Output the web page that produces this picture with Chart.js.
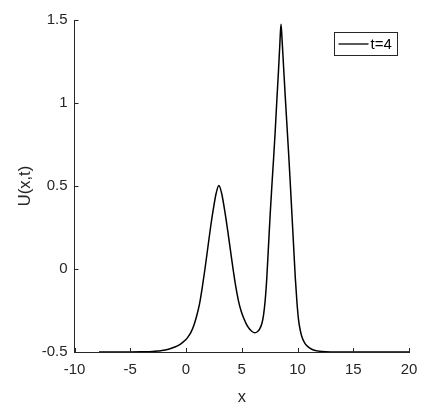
<!DOCTYPE html>
<html><head><meta charset="utf-8">
<script src="https://cdn.jsdelivr.net/npm/chart.js@4.4.0/dist/chart.umd.min.js"></script>
<style>html,body{margin:0;padding:0;background:#fff;}#wrap{width:436px;height:414px;}</style>
</head><body><div id="wrap"><canvas id="c" width="436" height="414"></canvas></div>
<script>
const xValues = [-7.8,-6,-5,-4,-3,-2.5,-2,-1.5,-1,-0.6,-0.3,-0.05,0.2,0.45,0.7,0.95,1.2,1.45,1.7,1.95,2.2,2.45,2.7,2.95,3.2,3.45,3.7,3.95,4.2,4.45,4.7,4.95,5.2,5.45,5.7,5.95,6.17,6.4,6.6,6.8,6.95,7.1,7.25,7.4,7.55,7.7,7.85,8.0,8.15,8.3,8.42,8.52,8.6,8.75,8.9,9.05,9.2,9.35,9.5,9.65,9.8,9.95,10.1,10.25,10.4,10.6,10.8,11.1,11.5,12.2,13,14,16,20];
const uValues = [-0.4999,-0.4997,-0.4993,-0.4985,-0.497,-0.494,-0.49,-0.482,-0.47,-0.457,-0.442,-0.428,-0.407,-0.38,-0.34,-0.285,-0.215,-0.115,0.0,0.125,0.25,0.36,0.455,0.503,0.455,0.36,0.25,0.13,0.01,-0.1,-0.19,-0.255,-0.30,-0.337,-0.362,-0.378,-0.384,-0.378,-0.362,-0.33,-0.28,-0.19,-0.05,0.14,0.33,0.5,0.66,0.83,1.02,1.2,1.36,1.474,1.40,1.22,1.04,0.87,0.7,0.52,0.33,0.14,-0.05,-0.2,-0.31,-0.37,-0.41,-0.44,-0.46,-0.477,-0.489,-0.497,-0.4995,-0.4999,-0.5,-0.5];
const xTicks = [-10,-5,0,5,10,15,20];
const yTicks = [-0.5,0,0.5,1,1.5];
const seriesLabel = 't=4';
const xTitle = 'x';
const yTitle = 'U(x,t)';

const axisColor = '#262626';
const FONT = '"Liberation Sans", Arial, Helvetica, sans-serif';

const innerTicks = {
  id: 'innerTicks',
  afterDraw(chart) {
    const ctx = chart.ctx, a = chart.chartArea;
    const xs = chart.scales.x, ys = chart.scales.y;
    ctx.save();
    ctx.strokeStyle = axisColor; ctx.lineWidth = 1;
    ctx.beginPath();
    xTicks.forEach(v => {
      const p = Math.round(xs.getPixelForValue(v)) + 0.5;
      ctx.moveTo(p, a.bottom); ctx.lineTo(p, a.bottom - 4);
    });
    yTicks.forEach(v => {
      const p = Math.round(ys.getPixelForValue(v)) + 0.5;
      ctx.moveTo(a.left, p); ctx.lineTo(a.left + 4, p);
    });
    ctx.stroke();
    // legend box
    const ds = chart.data.datasets[0];
    const bw = 63, bh = 23;
    const bx = Math.round(a.right - 12 - bw) + 0.5, by = Math.round(a.top + 12) + 0.5;
    ctx.fillStyle = '#fff'; ctx.fillRect(bx, by, bw, bh);
    ctx.strokeStyle = axisColor; ctx.lineWidth = 1; ctx.strokeRect(bx, by, bw, bh);
    ctx.strokeStyle = ds.borderColor; ctx.lineWidth = 1.3;
    ctx.beginPath(); ctx.moveTo(bx + 4, by + 11.5); ctx.lineTo(bx + 34, by + 11.5); ctx.stroke();
    ctx.fillStyle = '#000'; ctx.font = '15px ' + FONT;
    ctx.textBaseline = 'middle'; ctx.textAlign = 'left';
    ctx.fillText(ds.label, bx + 36, by + 12);
    ctx.restore();
  }
};

new Chart(document.getElementById('c'), {
  type: 'line',
  data: {
    datasets: [{
      label: seriesLabel,
      data: xValues.map((x, i) => ({x: x, y: uValues[i]})),
      borderColor: '#000000',
      borderWidth: 1.5,
      pointRadius: 0,
      fill: false,
      cubicInterpolationMode: 'monotone'
    }]
  },
  options: {
    responsive: false,
    devicePixelRatio: 1,
    animation: false,
    events: [],
    layout: { padding: { top: 20, right: 27, left: 0, bottom: 0 } },
    plugins: { legend: { display: false }, tooltip: { enabled: false } },
    scales: {
      x: {
        type: 'linear', min: -10, max: 20,
        afterBuildTicks: s => { s.ticks = xTicks.map(v => ({value: v})); },
        afterFit: s => { s.height = 62; },
        grid: { drawOnChartArea: false, drawTicks: false },
        border: { display: true, color: axisColor, width: 1 },
        ticks: { color: axisColor, font: { family: FONT, size: 15 }, padding: 9, maxRotation: 0, autoSkip: false, callback: v => String(v) },
        title: { display: true, text: xTitle, color: axisColor, font: { family: FONT, size: 16.5 }, padding: { top: 0, bottom: 7 } }
      },
      y: {
        type: 'linear', min: -0.5, max: 1.5,
        afterBuildTicks: s => { s.ticks = yTicks.map(v => ({value: v})); },
        afterFit: s => { s.width = 74.5; },
        grid: { drawOnChartArea: false, drawTicks: false },
        border: { display: true, color: axisColor, width: 1 },
        ticks: { color: axisColor, font: { family: FONT, size: 15 }, padding: 7, autoSkip: false, callback: v => String(v) },
        title: { display: true, text: yTitle, color: axisColor, font: { family: FONT, size: 16.5 }, padding: { top: 16, bottom: 0 } }
      }
    }
  },
  plugins: [innerTicks]
});
</script>
</body></html>
